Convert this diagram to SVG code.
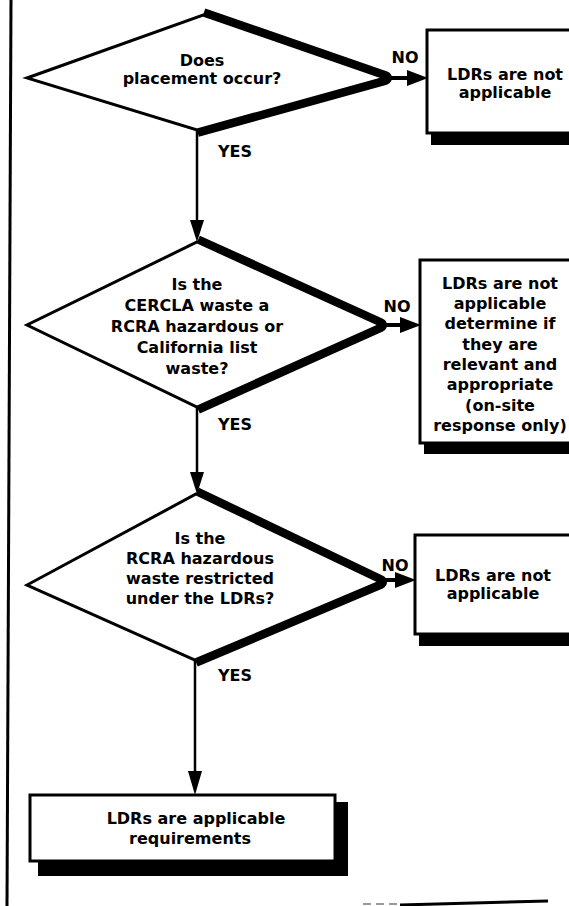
<svg xmlns="http://www.w3.org/2000/svg" width="569" height="906" viewBox="0 0 569 906">
<style>
text{font-family:"DejaVu Sans","Liberation Sans",sans-serif;font-weight:bold;font-size:16px;fill:#000}
.c{text-anchor:middle}
.dia{fill:#fff;stroke:#000;stroke-width:3;stroke-linejoin:miter}
.dsh{fill:none;stroke:#000;stroke-width:14;stroke-linejoin:round}
.box{fill:#fff;stroke:#000;stroke-width:3}
.sh{fill:#000}
.v{stroke:#000;stroke-width:2.5;fill:none}
.h{stroke:#000;stroke-width:4;fill:none}
.ah{fill:#000}
</style>
<rect width="569" height="906" fill="#fff"/>
<line x1="11" y1="0" x2="7" y2="906" stroke="#000" stroke-width="3"/>

<g id="connectors">
  <line class="v" x1="197" y1="130" x2="197" y2="224"/>
  <polygon class="ah" points="190,220 204,220 197,242"/>
  <text x="218" y="157">YES</text>
  <line class="h" x1="385" y1="78" x2="412" y2="78"/>
  <polygon class="ah" points="407,70 407,86 428,78"/>
  <text class="c" x="405" y="63">NO</text>

  <line class="v" x1="197" y1="407" x2="197" y2="476"/>
  <polygon class="ah" points="190,472 204,472 197,494"/>
  <text x="218" y="430">YES</text>
  <line class="h" x1="380" y1="325" x2="405" y2="325"/>
  <polygon class="ah" points="400,317 400,333 421,325"/>
  <text class="c" x="397" y="312">NO</text>

  <line class="v" x1="195" y1="660" x2="195" y2="775"/>
  <polygon class="ah" points="188,771 202,771 195,795"/>
  <text x="218" y="681">YES</text>
  <line class="h" x1="380" y1="580" x2="400" y2="580"/>
  <polygon class="ah" points="395,572 395,588 416,580"/>
  <text class="c" x="395" y="571">NO</text>
</g>

<g id="d1">
  <polyline class="dsh" points="203,15 385,78 197,130"/>
  <polygon class="dia" points="203,15 385,78 197,130 27,78"/>
  <text class="c" x="202" y="66">Does</text>
  <text class="c" x="202" y="84">placement occur?</text>
</g>

<g id="b1">
  <rect class="sh" x="431" y="131" width="140" height="14"/>
  <rect class="box" x="427" y="30" width="150" height="103"/>
  <text class="c" x="505" y="80">LDRs are not</text>
  <text class="c" x="505" y="98">applicable</text>
</g>

<g id="d2">
  <polyline class="dsh" points="197,242 380,325 197,407"/>
  <polygon class="dia" points="197,242 380,325 197,407 27,325"/>
  <text class="c" x="197" y="290">Is the</text>
  <text class="c" x="197" y="311">CERCLA waste a</text>
  <text class="c" x="197" y="332">RCRA hazardous or</text>
  <text class="c" x="197" y="353">California list</text>
  <text class="c" x="197" y="374">waste?</text>
</g>

<g id="b2">
  <rect class="sh" x="424" y="441" width="147" height="13"/>
  <rect class="box" x="420" y="260" width="155" height="183"/>
  <text class="c" x="500" y="289">LDRs are not</text>
  <text class="c" x="500" y="309">applicable</text>
  <text class="c" x="500" y="329">determine if</text>
  <text class="c" x="500" y="350">they are</text>
  <text class="c" x="500" y="370">relevant and</text>
  <text class="c" x="500" y="390">appropriate</text>
  <text class="c" x="500" y="411">(on-site</text>
  <text class="c" x="500" y="431">response only)</text>
</g>

<g id="d3">
  <polyline class="dsh" points="196,494 380,582 195,660"/>
  <polygon class="dia" points="196,494 380,582 195,660 27,585"/>
  <text class="c" x="200" y="544">Is the</text>
  <text class="c" x="200" y="564">RCRA hazardous</text>
  <text class="c" x="200" y="584">waste restricted</text>
  <text class="c" x="200" y="604">under the LDRs?</text>
</g>

<g id="b3">
  <rect class="sh" x="419" y="632" width="152" height="14"/>
  <rect class="box" x="415" y="535" width="160" height="99"/>
  <text class="c" x="493" y="581">LDRs are not</text>
  <text class="c" x="493" y="599">applicable</text>
</g>

<g id="b4">
  <polygon class="sh" points="333,802 348,802 348,876 38,876 38,861 333,861"/>
  <rect class="box" x="30" y="795" width="305" height="66"/>
  <text class="c" x="196" y="824">LDRs are applicable</text>
  <text class="c" x="190" y="844">requirements</text>
</g>

<line x1="363" y1="904" x2="400" y2="904" stroke="#999" stroke-width="2" stroke-dasharray="8,5"/>
<line x1="400" y1="905" x2="548" y2="901" stroke="#000" stroke-width="3"/>
</svg>
